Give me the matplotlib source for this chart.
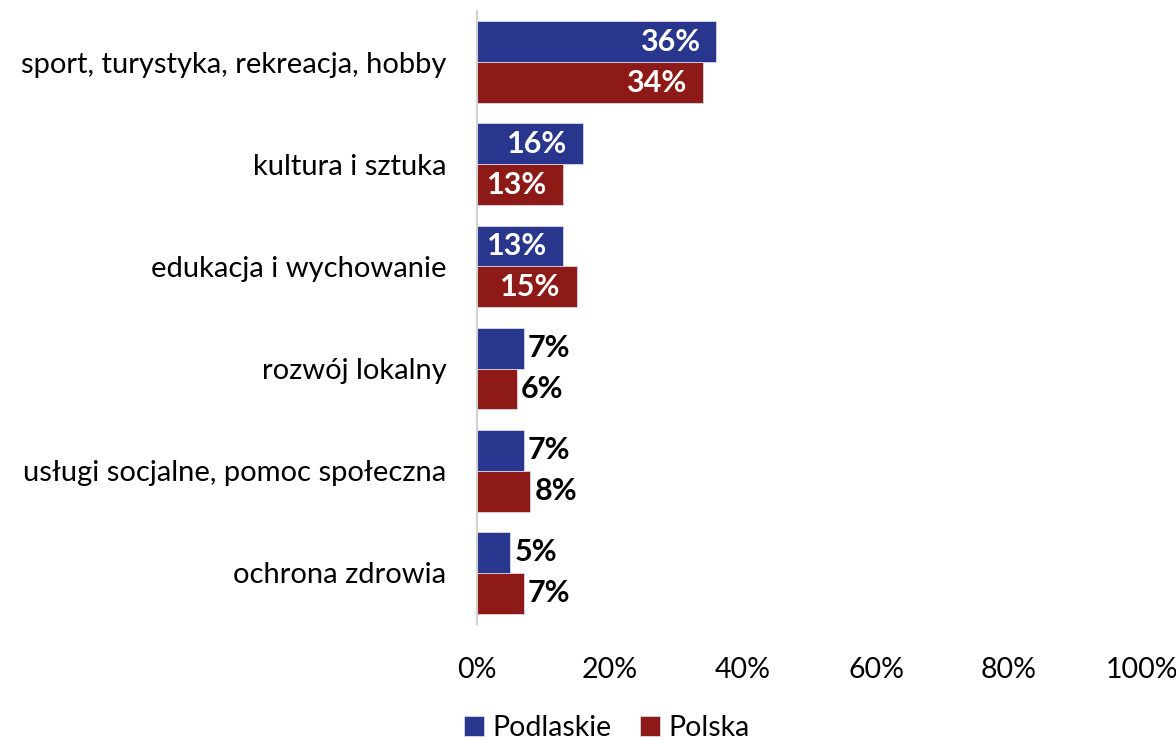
import matplotlib.pyplot as plt
import numpy as np

plt.rcParams['font.family'] = ['Lato', 'DejaVu Sans']

categories = ['sport, turystyka, rekreacja, hobby', 'kultura i sztuka',
              'edukacja i wychowanie', 'rozwój lokalny',
              'usługi socjalne, pomoc społeczna', 'ochrona zdrowia']
podlaskie = [36, 16, 13, 7, 7, 5]
polska = [34, 13, 15, 6, 8, 7]
series_names = ['Podlaskie', 'Polska']
colors = ['#29368D', '#8D1A17']
xticks = [0, 20, 40, 60, 80, 100]

fig = plt.figure(figsize=(11.76, 7.4), dpi=100)
ax = fig.add_axes([0.4056, 0.1568, 0.5655, 0.8283])

y = np.arange(len(categories))
h = 0.40
bars = []
for i, (vals, col) in enumerate(zip([podlaskie, polska], colors)):
    yy = y - h / 2 + i * h
    b = ax.barh(yy, vals, height=h, color=col, edgecolor='#d8d8e8',
                linewidth=0.6, label=series_names[i])
    bars.append(b)
    # etykiety wartości
    for v, yc in zip(vals, yy):
        if v >= 10:
            ax.annotate(f'{v}%', xy=(v, yc), xytext=(-12, 0),
                        textcoords='offset points', ha='right', va='center',
                        color='white', fontsize=22, fontweight='bold')
        else:
            ax.annotate(f'{v}%', xy=(v, yc), xytext=(3, 0),
                        textcoords='offset points', ha='left', va='center',
                        color='black', fontsize=22, fontweight='bold')

ax.set_xlim(0, 100)
ax.set_ylim(len(categories) - 0.5, -0.5)
ax.set_yticks(y)
ax.set_yticklabels(categories, fontsize=21)
ax.set_xticks(xticks)
ax.set_xticklabels([f'{t}%' for t in xticks], fontsize=20.5)
ax.tick_params(axis='both', length=0)
ax.tick_params(axis='y', pad=22)
ax.tick_params(axis='x', pad=24)
for s in ['top', 'right', 'bottom']:
    ax.spines[s].set_visible(False)
ax.spines['left'].set_color('#d0d0d0')
ax.spines['left'].set_linewidth(1.5)

fig.legend(handles=bars, labels=series_names, loc='lower center',
           bbox_to_anchor=(0.516, -0.036), ncol=2, frameon=False,
           fontsize=20.5, handlelength=0.7, handleheight=0.7,
           handletextpad=0.3, columnspacing=1.0)

plt.savefig('out.png', dpi=100)
